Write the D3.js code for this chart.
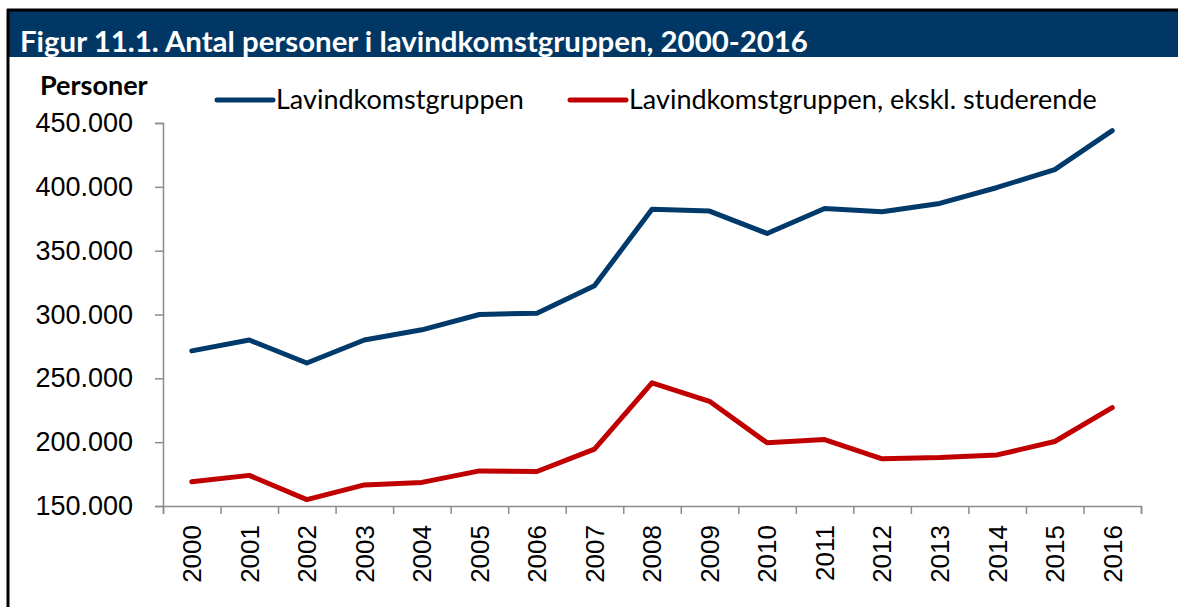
<!DOCTYPE html>
<html>
<head>
<meta charset="utf-8">
<script src="https://cdn.jsdelivr.net/npm/d3@7"></script>
<style>
  html, body { margin: 0; padding: 0; background: #fff; }
  svg { display: block; }
</style>
</head>
<body>
<svg id="chart" width="1178" height="607"></svg>
<script>
// ---- data ----
const years = ["2000","2001","2002","2003","2004","2005","2006","2007","2008","2009","2010","2011","2012","2013","2014","2015","2016"];
const lavindkomst = [271500, 280000, 262000, 280000, 288000, 300000, 301000, 322500, 382500, 381000, 363500, 383000, 380500, 387000, 399500, 413500, 444000];
const lavindkomstEksklStud = [169000, 174000, 155000, 166500, 168500, 177500, 177000, 194500, 246500, 232000, 199500, 202000, 187000, 188000, 190000, 200500, 227000];
const yTicks = [150000, 200000, 250000, 300000, 350000, 400000, 450000];
const seriesNames = ["Lavindkomstgruppen", "Lavindkomstgruppen, ekskl. studerende"];
const seriesColors = ["#003A6B", "#C00000"];
const titleText = "Figur 11.1. Antal personer i lavindkomstgruppen, 2000-2016";
const yAxisTitle = "Personer";

const svg = d3.select("#chart");
const W = 1178, H = 607;

// frame
svg.append("rect").attr("x", 9).attr("y", 11).attr("width", W - 9).attr("height", 46).attr("fill", "#003764");
svg.append("line").attr("x1", 7).attr("x2", W).attr("y1", 10).attr("y2", 10).attr("stroke", "#000").attr("stroke-width", 3);
svg.append("line").attr("x1", 8).attr("x2", 8).attr("y1", 9).attr("y2", H).attr("stroke", "#000").attr("stroke-width", 3);

svg.append("text").attr("x", 20).attr("y", 52)
  .attr("font-family", "Lato").attr("font-weight", "bold").attr("font-size", 29.4)
  .attr("fill", "#fff").text(titleText);

svg.append("text").attr("x", 40).attr("y", 95)
  .attr("font-family", "Lato").attr("font-weight", "bold").attr("font-size", 27)
  .attr("fill", "#000").text(yAxisTitle);

// scales
const x = d3.scaleBand().domain(years).range([163, 1141]).padding(0);
const xEdge = d3.scaleLinear().domain([0, years.length]).range([163, 1141]);
const y = d3.scaleLinear().domain([150000, 450000]).range([506, 123]);

const loc = d3.formatLocale({decimal: ",", thousands: ".", grouping: [3], currency: ["", ""]});
const fmt = loc.format(",.0f");

// y axis
const yAxis = svg.append("g").attr("transform", "translate(163,0)")
  .call(d3.axisLeft(y).tickValues(yTicks).tickSize(8).tickPadding(22).tickFormat(fmt));
yAxis.select(".domain").attr("stroke", "#8c8c8c").attr("stroke-width", 1.5);
yAxis.selectAll(".tick line").attr("stroke", "#8c8c8c").attr("stroke-width", 1.5);
yAxis.selectAll(".tick text").attr("font-family", "Liberation Sans").attr("font-size", 27).attr("fill", "#000");

// x axis (ticks between categories)
const xAxis = svg.append("g").attr("transform", "translate(0,506)")
  .call(d3.axisBottom(xEdge).tickValues(d3.range(0, years.length + 1)).tickSize(8).tickFormat(""));
xAxis.select(".domain").attr("stroke", "#8c8c8c").attr("stroke-width", 1.5);
xAxis.selectAll(".tick line").attr("stroke", "#8c8c8c").attr("stroke-width", 1.5);

svg.append("g").selectAll("text").data(years).join("text")
  .attr("transform", d => `translate(${x(d) + x.bandwidth() / 2},525) rotate(-90)`)
  .attr("text-anchor", "end").attr("dy", "0.36em")
  .attr("font-family", "Liberation Sans").attr("font-size", 26).attr("fill", "#000")
  .text(d => d);

// lines
const line = d3.line().x((d, i) => x(years[i]) + x.bandwidth() / 2).y(d => y(d));
[lavindkomst, lavindkomstEksklStud].forEach((s, i) => {
  svg.append("path").datum(s).attr("d", line)
    .attr("fill", "none").attr("stroke", seriesColors[i]).attr("stroke-width", 5)
    .attr("stroke-linejoin", "round").attr("stroke-linecap", "round");
});

// legend
const legendX = [217, 570];
seriesNames.forEach((n, i) => {
  svg.append("line").attr("x1", legendX[i]).attr("x2", legendX[i] + 56).attr("y1", 100).attr("y2", 100)
    .attr("stroke", seriesColors[i]).attr("stroke-width", 5).attr("stroke-linecap", "round");
  svg.append("text").attr("x", legendX[i] + 59).attr("y", 100).attr("dy", "0.35em")
    .attr("font-family", "Lato").attr("font-size", 27).attr("fill", "#000").text(n);
});
</script>
</body>
</html>
